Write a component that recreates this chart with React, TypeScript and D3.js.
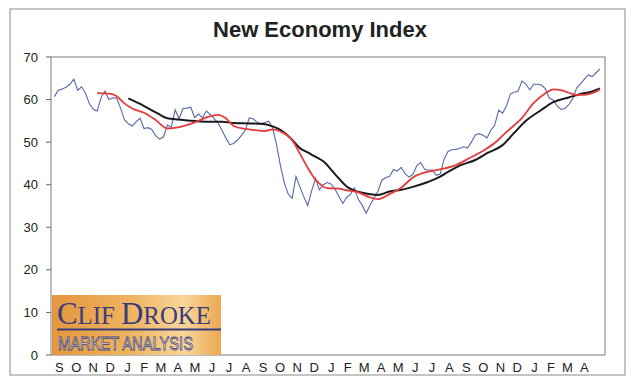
import React from "react";
import * as d3 from "d3";

// Weekly index readings, first week ending 2007-09-07
const indexValues = [
  60.7, 62.2, 62.5, 62.9, 63.6, 64.8, 62.2, 63.0, 61.5, 59.0, 57.7, 57.3, 60.5, 62.0, 60.0, 60.4,
  60.3, 58.0, 55.2, 54.3, 53.8, 54.8, 55.6, 53.2, 53.4, 53.0, 51.5, 50.7, 51.2, 54.0, 53.5, 57.6,
  55.5, 57.9, 58.0, 58.2, 55.8, 56.6, 55.7, 57.3, 56.5, 55.5, 54.5, 52.8, 51.0, 49.4, 49.7, 50.5,
  51.6, 52.8, 55.7, 55.5, 54.7, 54.3, 54.6, 54.9, 53.3, 49.5, 44.5, 40.5, 37.8, 36.8, 41.9, 39.5,
  37.2, 35.1, 38.5, 41.5, 38.8, 40.0, 40.5, 40.2, 39.0, 37.3, 35.6, 37.0, 37.8, 39.2, 36.5, 35.2,
  33.3, 35.2, 36.8, 38.4, 41.0, 41.7, 41.9, 43.6, 43.2, 44.1, 42.6, 41.8, 42.4, 44.5, 45.2, 43.6,
  43.4, 43.5, 42.2, 42.5, 46.0, 47.8, 48.2, 48.3, 48.5, 48.9, 48.6, 50.0, 51.7, 52.0, 51.6, 51.0,
  52.8, 54.0, 57.5, 56.8, 58.5, 61.3, 61.7, 62.0, 64.4, 63.6, 62.3, 63.6, 63.6, 63.4, 62.5, 60.3,
  59.9, 58.5, 57.7, 57.9, 58.8, 60.2, 62.7, 63.7, 64.8, 65.8, 65.4, 66.3, 67.2,
];

// short moving average (red), read at these week numbers
const shortWeeks = [11, 14, 16, 18, 20, 23, 26, 29, 32, 34, 37, 39, 42, 44, 46, 49, 51, 54, 56, 58, 61, 63, 65, 67, 68, 70, 73, 75, 78, 81, 83, 86, 89, 92, 96, 99, 103, 106, 110, 113, 116, 120, 123, 126, 128, 130, 132, 134, 136, 138, 140];
const shortValues = [61.5, 61.4, 60.8, 59.1, 57.9, 56.9, 55.2, 53.2, 53.5, 54.0, 55.0, 55.8, 56.4, 55.6, 53.8, 53.1, 52.9, 52.6, 53.0, 52.5, 50.5, 47.3, 44.0, 41.2, 40.3, 39.2, 39.1, 38.7, 38.2, 37.0, 36.6, 37.8, 39.3, 41.7, 43.1, 43.6, 44.6, 46.0, 48.0, 49.8, 52.4, 55.7, 59.2, 61.5, 62.4, 62.2, 61.6, 61.1, 61.1, 61.5, 62.4];

// long moving average (black)
const longWeeks = [19, 22, 26, 29, 32, 35, 39, 43, 46, 50, 53, 56, 58, 61, 63, 65, 67, 69, 72, 75, 79, 83, 86, 89, 92, 96, 99, 101, 104, 108, 111, 115, 118, 121, 125, 128, 132, 135, 138, 140];
const longValues = [60.3, 59.0, 57.0, 55.6, 55.3, 55.0, 54.8, 54.8, 54.5, 54.4, 54.3, 53.7, 52.9, 50.6, 48.6, 47.6, 46.6, 45.5, 42.5, 39.6, 38.1, 37.6, 38.4, 38.8, 39.5, 40.7, 41.9, 43.0, 44.5, 45.8, 47.4, 49.3, 52.2, 55.0, 57.6, 59.4, 60.5, 61.3, 61.9, 62.6];

const monthLabels = ["S", "O", "N", "D", "J", "F", "M", "A", "M", "J", "J", "A", "S", "O", "N", "D", "J", "F", "M", "A", "M", "J", "J", "A", "S", "O", "N", "D", "J", "F", "M", "A"];
const yTicks = [0, 10, 20, 30, 40, 50, 60, 70];

const firstWeek = new Date(2007, 8, 7);
const weekDate = (w: number) => d3.timeDay.offset(firstWeek, w * 7);

const App = () => {
  const margin = { left: 51, right: 605, top: 57, bottom: 355 };

  const x = d3.scaleTime()
    .domain([new Date(2007, 8, 1), new Date(2010, 4, 23)])
    .range([margin.left, margin.right]);
  const y = d3.scaleLinear().domain([0, 70]).range([margin.bottom, margin.top]);

  const months = d3.timeMonth.range(new Date(2007, 8, 1), new Date(2010, 4, 1));

  const pathFor = (weeks: number[], vals: number[], curve: d3.CurveFactory) =>
    d3.line<number>()
      .x((_, i) => x(weekDate(weeks[i])))
      .y((v) => y(v))
      .curve(curve)(vals) || "";

  const indexPath = pathFor(indexValues.map((_, i) => i), indexValues, d3.curveLinear);
  const shortPath = pathFor(shortWeeks, shortValues, d3.curveMonotoneX);
  const longPath = pathFor(longWeeks, longValues, d3.curveMonotoneX);

  const navy = "#393c7c";

  return (
    <svg width={639} height={385} style={{ position: "fixed", left: 0, top: 0, background: "#fff" }}
      fontFamily="'Liberation Sans', Arial, sans-serif">
      <defs>
        <linearGradient id="logoBg" x1="0" x2="1" y1="0" y2="0">
          <stop offset="0%" stopColor="#e4963c" />
          <stop offset="45%" stopColor="#eeb25f" />
          <stop offset="78%" stopColor="#f8d69a" />
          <stop offset="100%" stopColor="#eca752" />
        </linearGradient>
      </defs>

      {/* outer frame */}
      <rect x={10} y={9} width={615} height={366} fill="none" stroke="#8a8a8a" strokeWidth={1} />

      <text x={320} y={37} textAnchor="middle" fontSize={22} fontWeight="bold" fill="#222">
        New Economy Index
      </text>

      {/* plot box */}
      <rect x={margin.left} y={margin.top} width={margin.right - margin.left} height={margin.bottom - margin.top}
        fill="none" stroke="#7a7a7a" strokeWidth={1} />

      {yTicks.map((t) => (
        <g key={t}>
          <line x1={margin.left - 5} x2={margin.left} y1={y(t)} y2={y(t)} stroke="#666" />
          <text x={38} y={y(t)} dy="0.35em" textAnchor="end" fontSize={13} fill="#222">{t}</text>
        </g>
      ))}

      {months.map((m, i) => {
        const mid = new Date((m.getTime() + d3.timeMonth.offset(m, 1).getTime()) / 2);
        return (
          <text key={i} x={x(mid)} y={367} dy="0.35em" textAnchor="middle" fontSize={13} fill="#222">
            {monthLabels[i]}
          </text>
        );
      })}

      {/* logo */}
      <g>
        <rect x={52} y={295} width={169} height={60} fill="url(#logoBg)" />
        <text x={57} y={324} fontFamily="'Liberation Serif', 'DejaVu Serif', serif" fill={navy}
          textLength={154} lengthAdjust="spacingAndGlyphs">
          <tspan fontSize={31}>C</tspan>
          <tspan fontSize={25}>LIF </tspan>
          <tspan fontSize={31}>D</tspan>
          <tspan fontSize={25}>ROKE</tspan>
        </text>
        <line x1={57} x2={221} y1={329.5} y2={329.5} stroke={navy} strokeWidth={2} />
        <text x={58} y={350} fontSize={19} fill="#f6e7d4" stroke={navy} strokeWidth={0.8}
          textLength={135} lengthAdjust="spacingAndGlyphs">
          MARKET ANALYSIS
        </text>
      </g>

      <path d={indexPath} fill="none" stroke="#5868a8" strokeWidth={1.1} />
      <path d={longPath} fill="none" stroke="#1a1a1a" strokeWidth={2} />
      <path d={shortPath} fill="none" stroke="#e63a3c" strokeWidth={1.8} />
    </svg>
  );
};

export default App;
